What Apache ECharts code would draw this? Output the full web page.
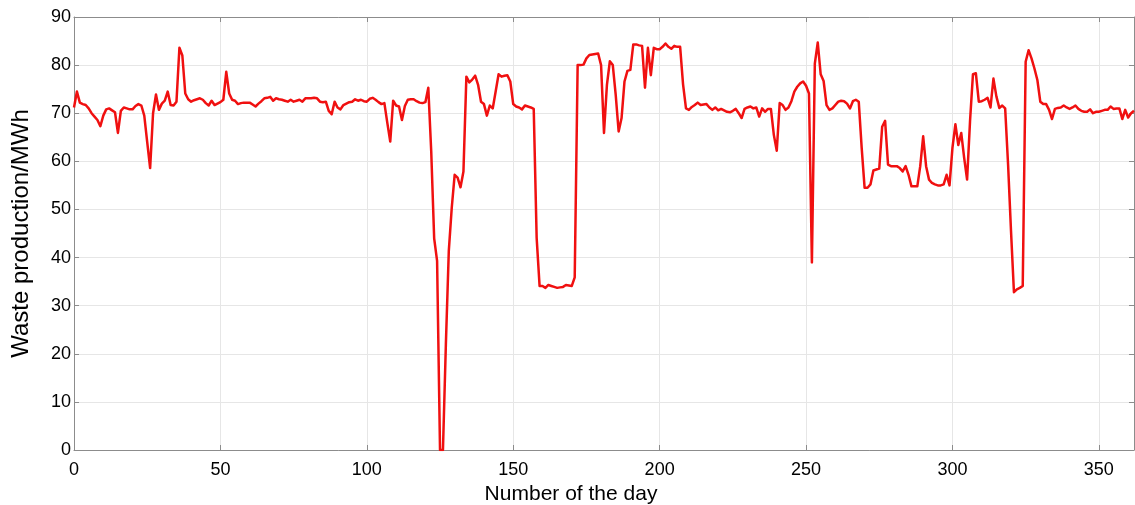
<!DOCTYPE html>
<html>
<head>
<meta charset="utf-8">
<style>
  html, body { margin: 0; padding: 0; background: #fff; }
  #chart { width: 1135px; height: 505px; }
</style>
<script src="https://cdn.jsdelivr.net/npm/echarts@6/dist/echarts.min.js"></script>
</head>
<body>
<div id="chart"></div>
<script>
// Daily waste production (MWh), one value per day starting at day 0
const waste = [
  71.2, 74.5, 72.2, 71.9, 71.7, 71.0, 70.0, 69.3, 68.6, 67.3,
  69.5, 70.8, 71.0, 70.6, 70.2, 65.9, 70.5, 71.2, 71.0, 70.8,
  70.8, 71.5, 71.9, 71.6, 69.5, 64.0, 58.6, 70.0, 73.9, 70.7,
  72.0, 72.6, 74.5, 71.7, 71.6, 72.4, 83.6, 82.0, 74.1, 72.9,
  72.4, 72.7, 72.9, 73.1, 72.8, 72.1, 71.6, 72.6, 71.7, 72.0,
  72.3, 72.8, 78.6, 74.1, 72.8, 72.6, 71.9, 72.1, 72.2, 72.2,
  72.2, 71.8, 71.4, 72.0, 72.5, 73.1, 73.2, 73.4, 72.6, 73.1,
  72.9, 72.8, 72.6, 72.4, 72.8, 72.4, 72.6, 72.8, 72.4, 73.1,
  73.1, 73.1, 73.2, 73.1, 72.4, 72.3, 72.4, 70.5, 69.8, 72.4,
  71.2, 70.8, 71.7, 72.0, 72.3, 72.4, 72.9, 72.6, 72.8, 72.5,
  72.4, 73.0, 73.2, 72.8, 72.3, 71.9, 72.1, 68.0, 64.1, 72.6,
  71.6, 71.4, 68.6, 71.5, 72.8, 72.9, 72.9, 72.5, 72.2, 72.1,
  72.3, 75.3, 62.0, 44.0, 39.3, 0.0, 0.0, 22.0, 41.4, 50.3,
  57.2, 56.6, 54.6, 57.9, 77.6, 76.4, 77.0, 77.8, 75.9, 72.4,
  71.9, 69.5, 71.6, 71.0, 74.5, 78.1, 77.6, 77.8, 77.9, 76.6,
  71.9, 71.4, 71.2, 70.8, 71.6, 71.4, 71.2, 70.9, 44.1, 34.1,
  34.1, 33.7, 34.3, 34.1, 33.9, 33.7, 33.8, 33.9, 34.3, 34.2,
  34.1, 35.9, 80.0, 80.0, 80.1, 81.4, 82.1, 82.2, 82.3, 82.4,
  80.0, 65.9, 75.9, 80.8, 80.0, 73.8, 66.2, 69.0, 76.6, 78.8,
  79.0, 84.3, 84.3, 84.1, 84.0, 75.3, 83.6, 77.9, 83.6, 83.3,
  83.3, 83.8, 84.5, 83.8, 83.4, 84.0, 83.8, 83.8, 76.0, 71.0,
  70.7, 71.3, 71.7, 72.2, 71.7, 71.8, 71.9, 71.2, 70.7, 71.2,
  70.6, 70.9, 70.6, 70.3, 70.2, 70.5, 70.9, 70.0, 69.0, 70.9,
  71.2, 71.4, 71.0, 71.2, 69.3, 71.0, 70.3, 70.9, 70.9, 65.5,
  62.2, 72.1, 71.7, 70.7, 71.2, 72.5, 74.5, 75.5, 76.2, 76.6,
  75.7, 74.1, 39.0, 80.3, 84.7, 78.1, 76.7, 71.7, 70.7, 71.0,
  71.7, 72.4, 72.6, 72.5, 72.0, 71.0, 72.5, 72.8, 72.4, 62.8,
  54.5, 54.5, 55.2, 58.1, 58.3, 58.5, 67.2, 68.4, 59.3, 59.0,
  59.0, 59.0, 58.6, 57.9, 59.0, 57.2, 54.8, 54.8, 54.8, 59.0,
  65.2, 59.0, 56.2, 55.5, 55.2, 55.0, 55.0, 55.2, 57.2, 55.0,
  62.8, 67.7, 63.4, 65.9, 60.7, 56.2, 68.3, 78.1, 78.3, 72.4,
  72.5, 72.8, 73.2, 71.2, 77.2, 73.5, 71.1, 71.6, 71.0, 59.3,
  45.5, 32.8, 33.4, 33.7, 34.1, 80.7, 83.1, 81.4, 79.3, 76.9,
  72.4, 71.9, 71.9, 70.7, 68.8, 70.9, 71.1, 71.2, 71.6, 71.2,
  70.9, 71.2, 71.6, 70.9, 70.5, 70.3, 70.3, 70.8, 70.0, 70.3,
  70.3, 70.5, 70.7, 70.7, 71.4, 70.9, 71.0, 71.0, 68.8, 70.7,
  69.1, 70.0, 70.5
];
const days = waste.map((_, i) => i);

const xTicks = { min: 0, max: 362, interval: 50 };
const yTicks = { min: 0, max: 90, interval: 10 };

const xTitle = 'Number of the day';
const yTitle = 'Waste production/MWh';

const FONT = '"Liberation Sans", Arial, Helvetica, sans-serif';
const AXIS_GRAY = '#8c8c8c';
const GRID_GRAY = '#e6e6e6';

const chart = echarts.init(document.getElementById('chart'), null, { renderer: 'canvas' });

// Top and right frame axes: line and inward ticks only
const frameAxis = {
  axisLine: { show: true, onZero: false, lineStyle: { color: AXIS_GRAY, width: 1 } },
  axisTick: { show: true, inside: true, length: 5, lineStyle: { color: AXIS_GRAY } },
  axisLabel: { show: false },
  splitLine: { show: false }
};

chart.setOption({
  animation: false,
  backgroundColor: '#ffffff',
  grid: { left: 74, right: 1, top: 17, bottom: 55, containLabel: false, outerBoundsMode: 'none' },
  xAxis: [
    {
      type: 'value',
      min: xTicks.min, max: xTicks.max, interval: xTicks.interval,
      name: xTitle, nameLocation: 'middle', nameGap: 33,
      nameTextStyle: { fontFamily: FONT, fontSize: 21, color: '#000', padding: [0, 66, 0, 0] },
      axisLine: { show: true, onZero: false, lineStyle: { color: AXIS_GRAY, width: 1 } },
      axisTick: { show: true, inside: true, length: 5, lineStyle: { color: AXIS_GRAY } },
      axisLabel: { fontFamily: FONT, fontSize: 18, color: '#000', margin: 11, showMaxLabel: false },
      splitLine: { show: true, lineStyle: { color: GRID_GRAY, width: 1 } }
    },
    Object.assign({ type: 'value', position: 'top', min: xTicks.min, max: xTicks.max, interval: xTicks.interval }, frameAxis)
  ],
  yAxis: [
    {
      type: 'value',
      min: yTicks.min, max: yTicks.max, interval: yTicks.interval,
      name: yTitle, nameLocation: 'middle', nameGap: 41, nameRotate: 90,
      nameTextStyle: { fontFamily: FONT, fontSize: 24, color: '#000' },
      axisLine: { show: true, onZero: false, lineStyle: { color: AXIS_GRAY, width: 1 } },
      axisTick: { show: true, inside: true, length: 5, lineStyle: { color: AXIS_GRAY } },
      axisLabel: { fontFamily: FONT, fontSize: 18, color: '#000', margin: 3 },
      splitLine: { show: true, lineStyle: { color: GRID_GRAY, width: 1 } }
    },
    Object.assign({ type: 'value', position: 'right', min: yTicks.min, max: yTicks.max, interval: yTicks.interval }, frameAxis)
  ],
  series: [{
    type: 'line',
    data: days.map((d, i) => [d, waste[i]]),
    showSymbol: false,
    symbol: 'none',
    lineStyle: { color: '#f01010', width: 2.5, join: 'round' },
    clip: true,
    z: 5
  }]
});
</script>
</body>
</html>
